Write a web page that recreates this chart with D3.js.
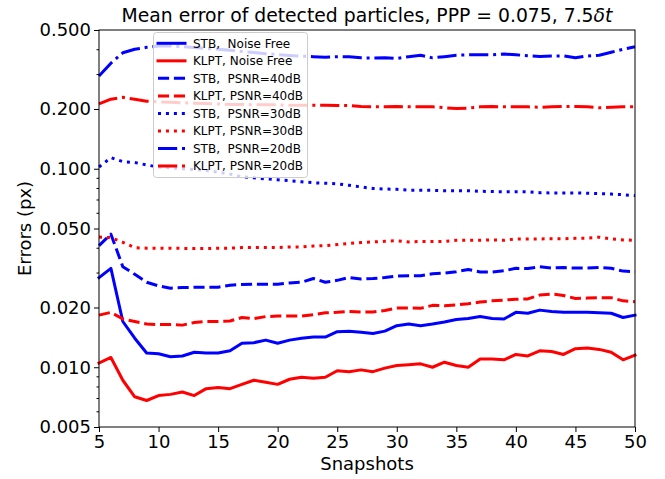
<!DOCTYPE html>
<html>
<head>
<meta charset="utf-8">
<script src="https://cdn.jsdelivr.net/npm/d3@7"></script>
<style>
  html, body { margin: 0; padding: 0; background: #fff; }
  svg { display: block; font-family: "DejaVu Sans", sans-serif; }
  text { white-space: pre; }
</style>
</head>
<body>
<svg id="chart" width="665" height="479"></svg>
<script>
// ---- data ----
const snapshots = [5,6,7,8,9,10,11,12,13,14,15,16,17,18,19,20,21,22,23,24,25,26,27,28,29,30,31,32,33,34,35,36,37,38,39,40,41,42,43,44,45,46,47,48,49,50];

const stbNoiseFree = [0.0283,0.0315,0.0170,0.0140,0.0118,0.0117,0.0113,0.0114,0.0119,0.0118,0.0118,0.0121,0.0132,0.0133,0.0137,0.0132,0.0137,0.0140,0.0142,0.0142,0.0151,0.0152,0.0150,0.0148,0.0152,0.0162,0.0165,0.0162,0.0165,0.0169,0.0174,0.0176,0.0180,0.0176,0.0175,0.0189,0.0187,0.0194,0.0191,0.0189,0.0189,0.0189,0.0188,0.0187,0.0178,0.0183];
const klptNoiseFree = [0.0105,0.0112,0.0086,0.0071,0.0068,0.0072,0.0073,0.0075,0.0072,0.0078,0.0079,0.0078,0.0082,0.0086,0.0084,0.0082,0.0087,0.0089,0.0088,0.0089,0.0096,0.0095,0.0097,0.0095,0.0099,0.0102,0.0103,0.0104,0.0100,0.0106,0.0102,0.0100,0.0110,0.0110,0.0109,0.0116,0.0114,0.0121,0.0120,0.0116,0.0124,0.0125,0.0123,0.0119,0.0109,0.0115];
const stb40 = [0.0410,0.0468,0.0321,0.0294,0.0268,0.0257,0.0250,0.0252,0.0253,0.0253,0.0253,0.0259,0.0261,0.0262,0.0262,0.0262,0.0266,0.0268,0.0280,0.0268,0.0274,0.0283,0.0278,0.0280,0.0283,0.0288,0.0289,0.0289,0.0296,0.0298,0.0303,0.0311,0.0302,0.0302,0.0306,0.0315,0.0314,0.0321,0.0316,0.0318,0.0316,0.0316,0.0318,0.0315,0.0305,0.0303];
const klpt40 = [0.0183,0.0189,0.0175,0.0170,0.0165,0.0164,0.0164,0.0163,0.0168,0.0170,0.0170,0.0171,0.0178,0.0176,0.0180,0.0181,0.0181,0.0181,0.0184,0.0188,0.0189,0.0191,0.0190,0.0190,0.0193,0.0199,0.0199,0.0198,0.0205,0.0204,0.0206,0.0209,0.0213,0.0216,0.0218,0.0220,0.0221,0.0231,0.0234,0.0230,0.0222,0.0223,0.0224,0.0224,0.0216,0.0214];
const stb30 = [0.102,0.1137,0.1086,0.1075,0.1045,0.102,0.101,0.100,0.099,0.098,0.096,0.094,0.091,0.090,0.089,0.088,0.087,0.086,0.085,0.0845,0.084,0.0825,0.081,0.0795,0.079,0.0788,0.078,0.078,0.0778,0.0775,0.0775,0.0775,0.077,0.0768,0.0766,0.0766,0.0765,0.0758,0.0755,0.0755,0.0755,0.0753,0.075,0.0745,0.074,0.0732];
const klpt30 = [0.0453,0.0450,0.0426,0.0400,0.0398,0.0398,0.0398,0.0397,0.0396,0.0396,0.0398,0.0398,0.0401,0.0401,0.0401,0.0401,0.0404,0.0404,0.0408,0.0410,0.0415,0.0420,0.0425,0.0428,0.0431,0.0434,0.0428,0.0430,0.0430,0.0430,0.0436,0.0436,0.0436,0.0438,0.0436,0.0443,0.0443,0.0443,0.0444,0.0444,0.0446,0.0447,0.0452,0.0443,0.0438,0.0436];
const stb20 = [0.293,0.340,0.384,0.400,0.409,0.415,0.415,0.412,0.408,0.404,0.400,0.395,0.390,0.385,0.380,0.376,0.372,0.369,0.367,0.364,0.367,0.367,0.362,0.361,0.362,0.359,0.367,0.373,0.362,0.367,0.373,0.375,0.375,0.375,0.378,0.375,0.371,0.368,0.370,0.370,0.362,0.370,0.373,0.386,0.400,0.412];
const klpt20 = [0.212,0.224,0.229,0.224,0.219,0.217,0.216,0.215,0.214,0.213,0.212,0.211,0.211,0.210,0.210,0.210,0.209,0.209,0.209,0.209,0.208,0.208,0.206,0.205,0.205,0.206,0.205,0.205,0.205,0.203,0.201,0.202,0.205,0.206,0.205,0.205,0.205,0.204,0.205,0.206,0.206,0.205,0.203,0.204,0.205,0.205];

const seriesLabels = ["STB,  Noise Free","KLPT, Noise Free","STB,  PSNR=40dB","KLPT, PSNR=40dB","STB,  PSNR=30dB","KLPT, PSNR=30dB","STB,  PSNR=20dB","KLPT, PSNR=20dB"];
const seriesValues = [stbNoiseFree, klptNoiseFree, stb40, klpt40, stb30, klpt30, stb20, klpt20];
const seriesColors = ["#0000ff","#ff0000","#0000ff","#ff0000","#0000ff","#ff0000","#0000ff","#ff0000"];
const seriesDash = ["none","none","11.1,4.8","11.1,4.8","3,4.95","3,4.95","19.2,4.8,3,4.8","19.2,4.8,3,4.8"];

const xTicks = [5,10,15,20,25,30,35,40,45,50];
const yTicks = [0.005,0.01,0.02,0.05,0.1,0.2,0.5];
const yMinorTicks = [0.006,0.007,0.008,0.009,0.03,0.04,0.06,0.07,0.08,0.09,0.3,0.4];
const titleMain = "Mean error of detected particles, PPP = 0.075, 7.5";
const xLabel = "Snapshots";
const yLabel = "Errors (px)";

// ---- layout ----
const L = 99, R = 635, T = 30, B = 427;
const svg = d3.select("#chart");
const x = d3.scaleLinear().domain([5, 50]).range([L, R]);
const y = d3.scaleLog().domain([0.005, 0.5]).range([B, T]);

// lines
const line = d3.line().x((d, i) => x(snapshots[i])).y(d => y(d));
const gLines = svg.append("g");
seriesValues.forEach((vals, k) => {
  gLines.append("path")
    .attr("d", line(vals))
    .attr("fill", "none")
    .attr("stroke", seriesColors[k])
    .attr("stroke-width", 3)
    .attr("stroke-linejoin", "round")
    .attr("stroke-linecap", seriesDash[k] === "none" ? "square" : "butt")
    .attr("stroke-dasharray", seriesDash[k]);
});

// frame
svg.append("rect").attr("x", L).attr("y", T).attr("width", R - L).attr("height", B - T)
  .attr("fill", "none").attr("stroke", "#000").attr("stroke-width", 1);

// axes
const xAxis = d3.axisBottom(x).tickValues(xTicks).tickSize(5).tickPadding(3).tickFormat(d3.format("d"));
const gx = svg.append("g").attr("transform", `translate(0,${B})`).call(xAxis);
gx.select(".domain").remove();
gx.selectAll("text").attr("font-size", 18).attr("font-family", "DejaVu Sans").attr("fill", "#000");

const yAxis = d3.axisLeft(y).tickValues(yTicks).tickSize(5).tickPadding(3).tickFormat(d3.format(".3f"));
const gy = svg.append("g").attr("transform", `translate(${L},0)`).call(yAxis);
gy.select(".domain").remove();
gy.selectAll("text").attr("font-size", 18).attr("font-family", "DejaVu Sans").attr("fill", "#000");

const yMinor = d3.axisLeft(y).tickValues(yMinorTicks).tickSize(2.5).tickFormat("");
const gym = svg.append("g").attr("transform", `translate(${L},0)`).call(yMinor);
gym.select(".domain").remove();

// labels
svg.append("text").attr("x", (L + R) / 2).attr("y", 470).attr("text-anchor", "middle")
  .attr("font-size", 18).text(xLabel);
svg.append("text").attr("transform", `translate(31,${(T + B) / 2}) rotate(-90)`).attr("text-anchor", "middle")
  .attr("font-size", 18).text(yLabel);
const title = svg.append("text").attr("x", (L + R) / 2).attr("y", 22).attr("text-anchor", "middle").attr("font-size", 18.8);
title.append("tspan").text(titleMain);
title.append("tspan").attr("font-style", "italic").text("δt");

// legend
const lg = svg.append("g");
lg.append("rect").attr("x", 153.5).attr("y", 32.5).attr("width", 154).attr("height", 145).attr("rx", 3)
  .attr("fill", "#fff").attr("fill-opacity", 0.8).attr("stroke", "#cccccc").attr("stroke-width", 1);
seriesLabels.forEach((lab, k) => {
  const cy = 43.3 + k * 17.53;
  lg.append("line").attr("x1", 158).attr("x2", 185).attr("y1", cy).attr("y2", cy)
    .attr("stroke", seriesColors[k]).attr("stroke-width", 3)
    .attr("stroke-linecap", seriesDash[k] === "none" ? "square" : "butt")
    .attr("stroke-dasharray", seriesDash[k]);
  lg.append("text").attr("x", 193).attr("y", cy + 4.3).attr("font-size", 12).attr("fill", "#000").text(lab);
});
</script>
</body>
</html>
